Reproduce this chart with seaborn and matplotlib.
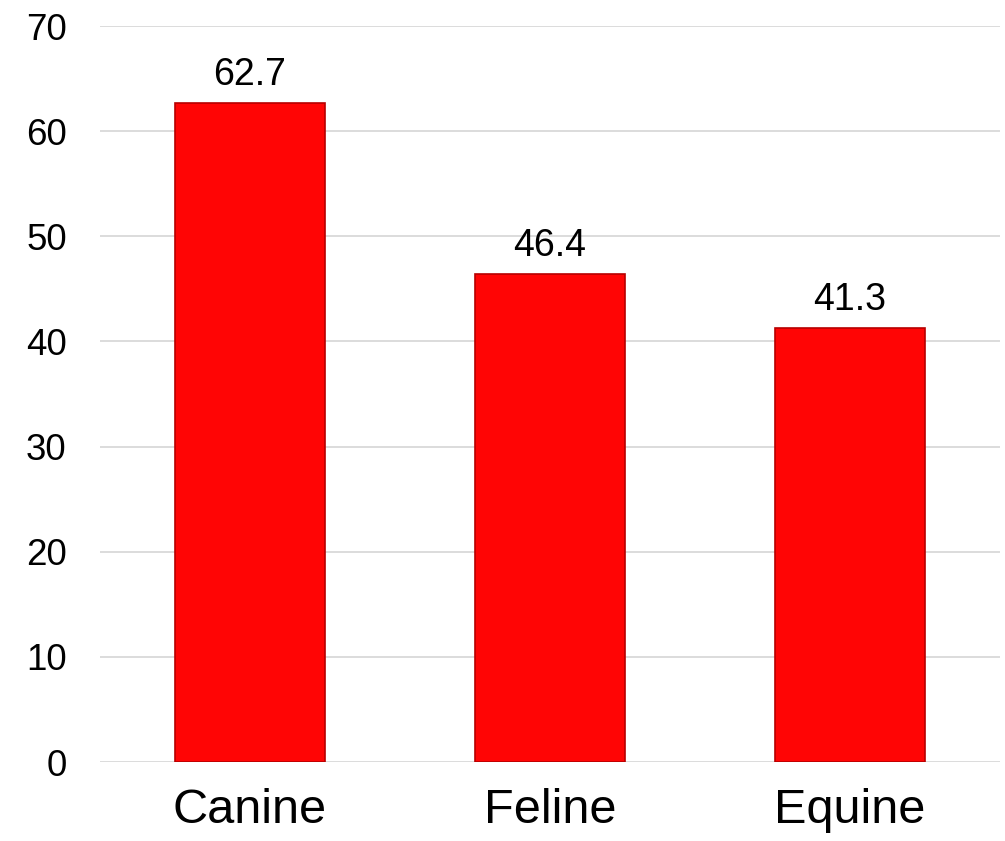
import matplotlib
matplotlib.use("Agg")
import matplotlib.pyplot as plt
import seaborn as sns
import pandas as pd

categories = ["Canine", "Feline", "Equine"]
values = [62.7, 46.4, 41.3]
y_ticks = [0, 10, 20, 30, 40, 50, 60, 70]

df = pd.DataFrame({"species": categories, "value": values})

sns.set_theme(style="white")
plt.rcParams["font.family"] = ["Liberation Sans", "DejaVu Sans"]

fig = plt.figure(figsize=(10.05, 8.41), dpi=100)
ax = fig.add_axes([100 / 1005, 1 - 762 / 841, 900 / 1005, (762 - 26) / 841])

sns.barplot(data=df, x="species", y="value", color="#FF0505", width=0.5,
            saturation=1, edgecolor="#B80000", linewidth=1.2, ax=ax, zorder=3)

ax.set_ylim(0, 70)
ax.set_xlim(-0.5, 2.5)
ax.set_yticks(y_ticks)
ax.set_yticklabels([str(t) for t in y_ticks], fontsize=26.5, color="black")
ax.tick_params(axis="x", labelsize=35, colors="black", pad=19, length=0)
ax.tick_params(axis="y", pad=24, length=0)
ax.set_xlabel("")
ax.set_ylabel("")
ax.yaxis.grid(True, color="#D9D9D9", linewidth=1.3, zorder=0)
ax.set_axisbelow(True)
for s in ax.spines.values():
    s.set_visible(False)

for container in ax.containers:
    ax.bar_label(container, labels=[f"{v:.1f}" for v in values],
                 padding=7, fontsize=27, color="black")

fig.savefig("out.png", dpi=100)
